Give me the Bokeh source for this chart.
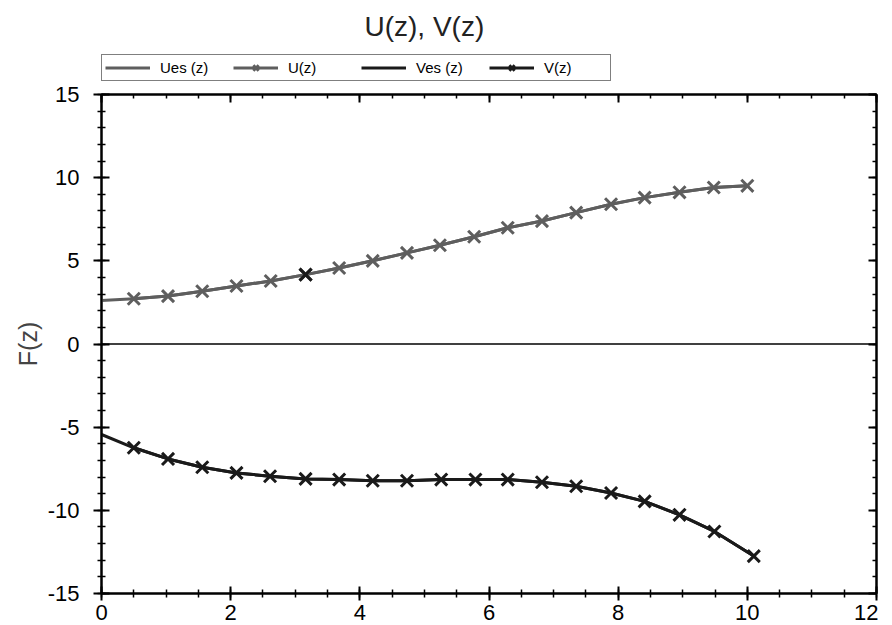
from bokeh.plotting import figure
from bokeh.models import (LinearAxis, Range1d, Span, Legend, LegendItem,
                          SingleIntervalTicker, CustomJSTickFormatter)
from bokeh.layouts import column
from bokeh.embed import file_html
from bokeh.resources import INLINE

# ---- data ----
x_u = [0.50, 1.03, 1.56, 2.09, 2.62, 3.16, 3.68, 4.20, 4.73, 5.24, 5.77, 6.29,
       6.82, 7.35, 7.89, 8.41, 8.95, 9.48, 10.00]
u_vals = [2.72, 2.88, 3.17, 3.49, 3.79, 4.17, 4.57, 5.00, 5.48, 5.94, 6.45, 6.99,
          7.39, 7.90, 8.40, 8.80, 9.12, 9.41, 9.51]
x_ues = [0.0] + x_u
ues_vals = [2.62] + u_vals

x_v = [0.50, 1.03, 1.56, 2.09, 2.61, 3.16, 3.68, 4.20, 4.73, 5.26, 5.79, 6.29,
       6.82, 7.35, 7.89, 8.41, 8.95, 9.49, 10.10]
v_vals = [-6.24, -6.91, -7.41, -7.75, -7.95, -8.11, -8.15, -8.22, -8.22, -8.15,
          -8.15, -8.15, -8.31, -8.55, -8.96, -9.46, -10.27, -11.27, -12.75]
x_ves = [0.0] + x_v
ves_vals = [-5.44] + v_vals

hl_x = [3.16]
hl_y = [4.17]

y_tick_labels = {-15: "-15", -10: "-10", -5: "-5", 0: "0", 5: "5", 10: "10", 15: "15"}
legend_labels = ["Ues (z)", "U(z)", "Ves (z)", "V(z)"]

FONT = "Liberation Sans"
GRAY = "#5e5e5e"
BLACK = "#1a1a1a"
MSIZE = 17


def draw_series(fig):
    r_ues = fig.line(x_ues, ues_vals, line_color=GRAY, line_width=3)
    r_u_line = fig.line(x_u, u_vals, line_color=GRAY, line_width=3)
    r_u_pts = fig.scatter(x_u, u_vals, marker="x", size=MSIZE, line_color=GRAY, line_width=3)
    r_ves = fig.line(x_ves, ves_vals, line_color=BLACK, line_width=3)
    r_v_line = fig.line(x_v, v_vals, line_color=BLACK, line_width=3)
    r_v_pts = fig.scatter(x_v, v_vals, marker="x", size=MSIZE, line_color=BLACK, line_width=3)
    return [[r_ues], [r_u_line, r_u_pts], [r_ves], [r_v_line, r_v_pts]]


# ---------- header figure: title + legend ----------
head = figure(width=878, height=81, output_backend="svg", toolbar_location=None,
              x_range=Range1d(100, 101), y_range=Range1d(100, 101),
              x_axis_type=None, y_axis_type=None,
              min_border_left=99, min_border_right=0, min_border_top=0,
              min_border_bottom=0, background_fill_color="white",
              border_fill_color="white")
head.grid.visible = False
head.outline_line_color = None
head.title.text = "U(z), V(z)"
head.title.align = "left"
head.title.offset = 263
head.title.text_font = FONT
head.title.text_font_size = "28px"
head.title.text_font_style = "normal"
head.title.text_color = "#222222"
head.title.standoff = 16

head_renderers = draw_series(head)
legend = Legend(items=[LegendItem(label=lab, renderers=rs)
                       for lab, rs in zip(legend_labels, head_renderers)],
                orientation="horizontal", location=(0, 0))
legend.margin = 0
legend.padding = 3
legend.spacing = 10
legend.glyph_width = 45
legend.glyph_height = 19
legend.label_standoff = 10
legend.label_width = 63
legend.label_height = 17
legend.label_text_font = FONT
legend.label_text_font_size = "15px"
legend.label_text_color = "black"
legend.border_line_color = "black"
legend.border_line_width = 1
legend.background_fill_color = "white"
legend.background_fill_alpha = 1
head.add_layout(legend)

# ---------- main plot ----------
p = figure(width=878, height=542, output_backend="svg",
           toolbar_location=None, x_range=Range1d(0, 12), y_range=Range1d(-15, 15),
           min_border_left=101, min_border_right=2, min_border_top=13,
           min_border_bottom=30, background_fill_color="white",
           border_fill_color="white")
p.grid.visible = False
p.outline_line_color = "black"
p.outline_line_width = 2

xt = SingleIntervalTicker(interval=2, num_minor_ticks=4)
yt = SingleIntervalTicker(interval=5, num_minor_ticks=5)
blank = CustomJSTickFormatter(code="return ''")


def style(ax, tin, tout, minin, minout):
    ax.axis_line_width = 2
    ax.axis_line_color = "black"
    ax.major_tick_line_width = 2
    ax.minor_tick_line_width = 1.5
    ax.major_tick_line_color = "black"
    ax.minor_tick_line_color = "black"
    ax.major_tick_in = tin
    ax.major_tick_out = tout
    ax.minor_tick_in = minin
    ax.minor_tick_out = minout
    ax.major_label_text_font = FONT
    ax.major_label_text_font_size = "22px"
    ax.major_label_text_color = "black"


xa = p.xaxis[0]
xa.ticker = xt
style(xa, 7, 7, 4, 4)
xa.major_label_standoff = 4

ya = p.yaxis[0]
ya.ticker = yt
style(ya, 8, 8, 4, 4)
ya.major_label_standoff = 14
ya.major_label_overrides = y_tick_labels
ya.axis_label = "F(z)"
ya.axis_label_text_font = FONT
ya.axis_label_text_font_size = "25px"
ya.axis_label_text_font_style = "normal"
ya.axis_label_standoff = 3

top = LinearAxis(ticker=xt, formatter=blank)
style(top, 8, 0, 4, 0)
top.major_label_text_font_size = "1px"
top.major_label_standoff = 0
p.add_layout(top, "above")

right = LinearAxis(ticker=yt, formatter=blank)
style(right, 8, 0, 4, 0)
right.major_label_text_font_size = "1px"
right.major_label_standoff = 0
p.add_layout(right, "right")

p.add_layout(Span(location=0, dimension="width", line_color="black", line_width=1.5))

draw_series(p)
p.scatter(hl_x, hl_y, marker="x", size=MSIZE, line_color=BLACK, line_width=3)

open("out.html", "w").write(file_html(column(head, p, spacing=0), INLINE))
